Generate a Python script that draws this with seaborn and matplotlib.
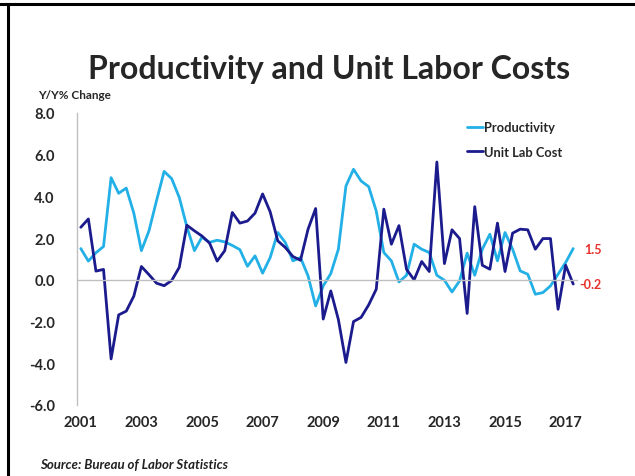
import matplotlib
matplotlib.use("Agg")
import matplotlib.pyplot as plt
import pandas as pd
import seaborn as sns
from matplotlib.lines import Line2D

# Quarterly year-over-year % changes, 2001Q1 - 2017Q2
quarters = [f"{y}Q{q}" for y in range(2001, 2018) for q in range(1, 5)][:66]

productivity = [
    1.5, 0.9, 1.3, 1.6, 4.9, 4.15, 4.4, 3.2,
    1.4, 2.35, 3.8, 5.2, 4.85, 3.95, 2.55, 1.4,
    2.05, 1.8, 1.9, 1.82, 1.65, 1.45, 0.65, 1.15,
    0.32, 1.07, 2.27, 1.79, 0.91, 1.07, 0.19, -1.25,
    -0.29, 0.3, 1.47, 4.5, 5.3, 4.74, 4.47, 3.3,
    1.31, 0.91, -0.1, 0.22, 1.71, 1.47, 1.31, 0.22,
    -0.02, -0.58, -0.05, 1.28, 0.22, 1.47, 2.19, 0.91,
    2.27, 1.47, 0.43, 0.27, -0.69, -0.61, -0.29, 0.27,
    0.83, 1.5,
]

unit_labor_cost = [
    2.52, 2.92, 0.42, 0.5, -3.79, -1.68, -1.5, -0.78,
    0.64, 0.25, -0.16, -0.28, -0.03, 0.6, 2.62, 2.35,
    2.1, 1.76, 0.9, 1.4, 3.23, 2.72, 2.82, 3.2,
    4.12, 3.26, 1.87, 1.55, 1.12, 0.94, 2.43, 3.42,
    -1.88, -0.53, -1.9, -3.96, -2.0, -1.8, -1.2, -0.45,
    3.39, 1.71, 2.6, 0.5, 0.0, 0.88, 0.4, 5.65,
    0.78, 2.4, 1.98, -1.61, 3.51, 0.7, 0.51, 2.72,
    0.4, 2.24, 2.43, 2.4, 1.47, 1.98, 1.98, -1.41,
    0.7, -0.2,
]

series_names = ["Productivity", "Unit Lab Cost"]
series_colors = ["#22b0e6", "#1b1b8e"]
year_labels = [str(y) for y in range(2001, 2018, 2)]
y_ticks = [-6.0, -4.0, -2.0, 0.0, 2.0, 4.0, 6.0, 8.0]

sns.set_style("white")
plt.rcParams["font.family"] = ["Lato", "DejaVu Sans"]
plt.rcParams["axes.unicode_minus"] = False

n = len(quarters)
df = pd.DataFrame({
    "quarter": quarters * 2,
    "pos": list(range(n)) * 2,
    "value": productivity + unit_labor_cost,
    "series": [series_names[0]] * n + [series_names[1]] * n,
})

W, H = 635, 477
fig = plt.figure(figsize=(W / 100, H / 100), dpi=100)
ax = fig.add_axes([77 / W, 1 - 406 / H, 500 / W, 292 / H])

sns.lineplot(data=df, x="pos", y="value", hue="series", hue_order=series_names,
             palette=series_colors, linewidth=2.0, ax=ax, legend=False)

ax.set_xlim(-0.5, n - 0.5)
ax.set_ylim(-6, 8)
ax.set_xlabel("")
ax.set_ylabel("")

# category axis sits on the zero line, ticks every four quarters
gray = "#bfbfbf"
ax.spines["bottom"].set_position(("data", 0))
for side in ("top", "right"):
    ax.spines[side].set_visible(False)
for side in ("bottom", "left"):
    ax.spines[side].set_color(gray)
    ax.spines[side].set_linewidth(1.0)
ax.set_xticks([k - 0.5 for k in range(4, n, 4)])
ax.set_xticklabels([])
ax.tick_params(axis="x", direction="out", length=4, color=gray, width=1)

ax.set_yticks(y_ticks)
ax.set_yticklabels([f"{v:.1f}" for v in y_ticks], fontweight="bold", fontsize=10.5)
ax.tick_params(axis="y", direction="out", length=4, color=gray, width=1, pad=12)

for k, lab in enumerate(year_labels):
    ax.text(8 * k, -0.058, lab, transform=ax.get_xaxis_transform(),
            ha="center", va="center", fontsize=10.5, fontweight="bold")

# last-value labels
ax.annotate(f"{productivity[-1]:.1f}", (n - 1, productivity[-1]), xytext=(8, 0),
            textcoords="offset points", color="#e8302c", fontsize=9,
            fontweight="bold", va="center", ha="left")
ax.annotate(f"{unit_labor_cost[-1]:.1f}", (n - 1, unit_labor_cost[-1]), xytext=(4, 0),
            textcoords="offset points", color="#e8302c", fontsize=9,
            fontweight="bold", va="center", ha="left")

handles = [Line2D([], [], color=c, lw=2.0) for c in series_colors]
ax.legend(handles, series_names, loc="upper left", frameon=False,
          bbox_to_anchor=(461 / W, 1 - 116 / H), bbox_transform=fig.transFigure,
          handlelength=1.2, handletextpad=0.1, labelspacing=0.95, borderpad=0,
          prop={"weight": "bold", "size": 9.3})

fig.text(329 / W, 1 - 69 / H, "Productivity and Unit Labor Costs",
         ha="center", va="center", fontsize=23, fontweight="bold")
fig.text(38 / W, 1 - 96 / H, "Y/Y% Change", ha="left", va="center",
         fontsize=8.5, fontweight="bold")
fig.text(40 / W, 1 - 465 / H, "Source: Bureau of Labor Statistics", ha="left",
         va="center", fontsize=9.5, fontweight="bold", style="italic", color="#222222")

# outer frame
fig.add_artist(Line2D([0, 1], [1 - 5 / H, 1 - 5 / H], transform=fig.transFigure,
                      color="black", lw=2.2))
fig.add_artist(Line2D([8 / W, 8 / W], [0, 1 - 5 / H], transform=fig.transFigure,
                      color="black", lw=2.2))

fig.savefig("out.png", dpi=100)
